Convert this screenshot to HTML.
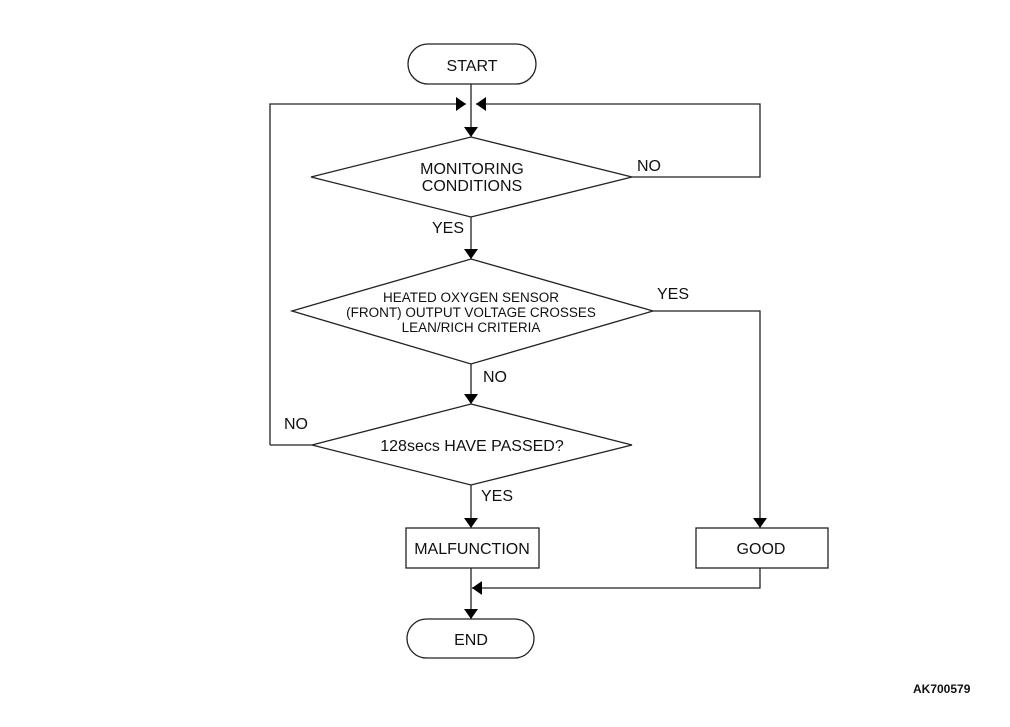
<!DOCTYPE html>
<html><head><meta charset="utf-8"><style>
html,body{margin:0;padding:0;background:#fff;}
svg{display:block;font-family:"Liberation Sans",Arial,sans-serif;}
</style></head><body>
<svg width="1010" height="727" viewBox="0 0 1010 727" xmlns="http://www.w3.org/2000/svg">
<defs>
<marker id="a" markerWidth="10" markerHeight="14" refX="10" refY="7" orient="auto" markerUnits="userSpaceOnUse">
<path d="M0,0 L10,7 L0,14 z" fill="#000"/></marker>
</defs>
<g fill="none" stroke="#222" stroke-width="1.3">
<rect x="408" y="44" width="128" height="40" rx="20"/>
<line x1="471" y1="84" x2="471" y2="137" marker-end="url(#a)"/>
<polyline points="270,445 270,104 466,104" marker-end="url(#a)"/>
<polyline points="632,177 760,177 760,104 476,104" marker-end="url(#a)"/>
<polygon points="471,137 632,177 471,217 311,177"/>
<line x1="471" y1="217" x2="471" y2="259" marker-end="url(#a)"/>
<polygon points="471,259 653,311 471,364 292,311"/>
<polyline points="653,311 760,311 760,528" marker-end="url(#a)"/>
<line x1="471" y1="364" x2="471" y2="404" marker-end="url(#a)"/>
<polygon points="471,404 632,445 471,485 312,445"/>
<line x1="312" y1="445" x2="270" y2="445"/>
<line x1="471" y1="485" x2="471" y2="528" marker-end="url(#a)"/>
<rect x="406" y="528" width="133" height="40"/>
<rect x="696" y="528" width="132" height="40"/>
<line x1="471" y1="568" x2="471" y2="619" marker-end="url(#a)"/>
<polyline points="760,568 760,588 472,588" marker-end="url(#a)"/>
<rect x="407" y="619" width="127" height="39" rx="19.5"/>
</g>
<g fill="#111" font-size="16" text-anchor="middle">
<text x="472" y="71">START</text>
<text x="472" y="174">MONITORING</text>
<text x="472" y="191">CONDITIONS</text>
<g font-size="13.5"><text x="471" y="302">HEATED OXYGEN SENSOR</text>
<text x="471" y="317">(FRONT) OUTPUT VOLTAGE CROSSES</text>
<text x="471" y="332">LEAN/RICH CRITERIA</text></g>
<text x="472" y="451">128secs HAVE PASSED?</text>
<text x="472" y="554">MALFUNCTION</text>
<text x="761" y="554">GOOD</text>
<text x="471" y="645">END</text>
</g>
<g fill="#111" font-size="16">
<text x="637" y="171">NO</text>
<text x="432" y="233">YES</text>
<text x="657" y="299">YES</text>
<text x="483" y="382">NO</text>
<text x="284" y="429">NO</text>
<text x="481" y="501">YES</text>
</g>
<text x="913" y="693" font-size="12" font-weight="bold" fill="#111">AK700579</text>
</svg>
</body></html>
